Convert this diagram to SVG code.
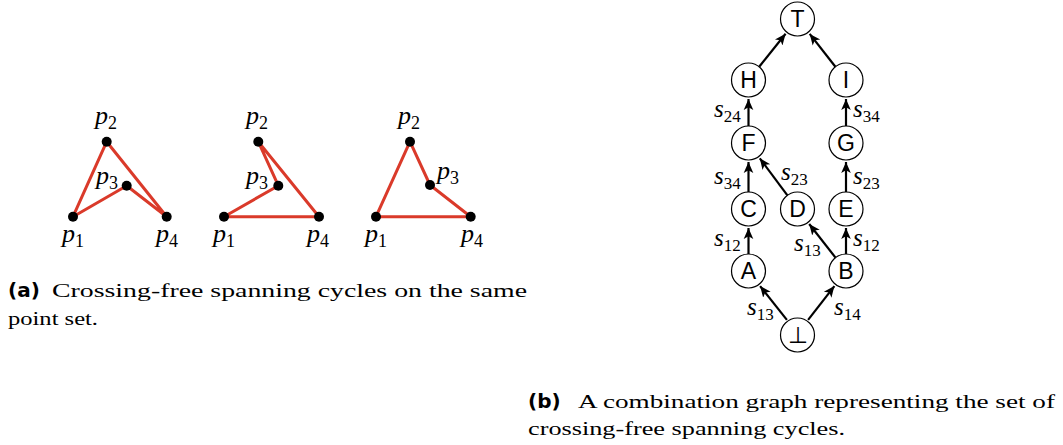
<svg xmlns="http://www.w3.org/2000/svg" width="1063" height="445" viewBox="0 0 1063 445">
<defs>
<marker id="ah" markerUnits="userSpaceOnUse" markerWidth="14" markerHeight="12" refX="11" refY="6" orient="auto">
<path d="M0,1.2 L11,6 L0,10.8 L2.8,6 Z" fill="#000"/>
</marker>
</defs>
<style>
.cyc{fill:none;stroke:#da3a2a;stroke-width:3;stroke-linejoin:round}
.pt{fill:#000}
.pl{font-family:"Liberation Serif","Times New Roman",serif;font-style:italic;font-size:26px;fill:#000}
.sub{font-style:normal;font-size:18px}
.nd circle{fill:#fff;stroke:#000;stroke-width:1.2}
.nd text{font-family:"Liberation Sans",Arial,sans-serif;font-size:23px;text-anchor:middle;fill:#000}
.e{stroke:#000;stroke-width:2.2;fill:none;marker-end:url(#ah)}
.el{font-family:"Liberation Serif","Times New Roman",serif;font-style:italic;font-size:25px;fill:#000}
.es{font-style:normal;font-size:17px}
.cap{font-family:"Liberation Serif",serif;font-size:19.5px;fill:#000}
.capb{font-family:"DejaVu Sans",sans-serif;font-weight:700;font-size:20px;fill:#000}
</style>

<g id="cycle1">
<polygon class="cyc" points="73,216.7 106.7,141.7 166.7,216.7 126.7,185.7"/>
<circle class="pt" cx="73" cy="216.7" r="5"/><circle class="pt" cx="106.7" cy="141.7" r="5"/><circle class="pt" cx="126.7" cy="185.7" r="5"/><circle class="pt" cx="166.7" cy="216.7" r="5"/>
<text class="pl" x="95" y="124">p<tspan class="sub" dy="5">2</tspan></text>
<text class="pl" x="96" y="184">p<tspan class="sub" dy="5">3</tspan></text>
<text class="pl" x="62" y="242">p<tspan class="sub" dy="5">1</tspan></text>
<text class="pl" x="156" y="242">p<tspan class="sub" dy="5">4</tspan></text>
</g>

<g id="cycle2">
<polygon class="cyc" points="224,216.7 278.3,185.7 258.3,141.7 319,216.7"/>
<circle class="pt" cx="224" cy="216.7" r="5"/><circle class="pt" cx="258.3" cy="141.7" r="5"/><circle class="pt" cx="278.3" cy="185.7" r="5"/><circle class="pt" cx="319" cy="216.7" r="5"/>
<text class="pl" x="246" y="124">p<tspan class="sub" dy="5">2</tspan></text>
<text class="pl" x="246" y="184">p<tspan class="sub" dy="5">3</tspan></text>
<text class="pl" x="213" y="242">p<tspan class="sub" dy="5">1</tspan></text>
<text class="pl" x="307" y="242">p<tspan class="sub" dy="5">4</tspan></text>
</g>

<g id="cycle3">
<polygon class="cyc" points="376,216.7 410,141.7 430,185 470.7,216.7"/>
<circle class="pt" cx="376" cy="216.7" r="5"/><circle class="pt" cx="410" cy="141.7" r="5"/><circle class="pt" cx="430" cy="185" r="5"/><circle class="pt" cx="470.7" cy="216.7" r="5"/>
<text class="pl" x="398" y="124">p<tspan class="sub" dy="5">2</tspan></text>
<text class="pl" x="437" y="179">p<tspan class="sub" dy="5">3</tspan></text>
<text class="pl" x="365" y="242">p<tspan class="sub" dy="5">1</tspan></text>
<text class="pl" x="461" y="242">p<tspan class="sub" dy="5">4</tspan></text>
</g>

<g id="caption-a">
<text class="capb" x="8" y="296.7">(a)</text>
<text class="cap" x="52" y="296.7" textLength="475" lengthAdjust="spacingAndGlyphs">Crossing-free spanning cycles on the same</text>
<text class="cap" x="8" y="325" textLength="90" lengthAdjust="spacingAndGlyphs">point set.</text>
</g>

<g id="connectors">
<line class="e" x1="759.2" y1="66.7" x2="785.6" y2="33.8"/>
<line class="e" x1="835.4" y1="66.7" x2="809.7" y2="33.9"/>
<line class="e" x1="748.5" y1="126" x2="748.5" y2="99"/>
<line class="e" x1="846" y1="126" x2="846" y2="99"/>
<line class="e" x1="748.5" y1="192" x2="748.5" y2="162"/>
<line class="e" x1="787.4" y1="195.3" x2="759.8" y2="158.3"/>
<line class="e" x1="846" y1="192" x2="846" y2="162"/>
<line class="e" x1="748.5" y1="254" x2="748.5" y2="228"/>
<line class="e" x1="835.5" y1="257.6" x2="809.2" y2="224"/>
<line class="e" x1="846" y1="254" x2="846" y2="228"/>
<line class="e" x1="786.9" y1="319.9" x2="760.1" y2="286.1"/>
<line class="e" x1="808.1" y1="319.9" x2="834.4" y2="286.1"/>
<text class="el" x="714" y="117">s<tspan class="es" dy="5">24</tspan></text>
<text class="el" x="853" y="117">s<tspan class="es" dy="5">34</tspan></text>
<text class="el" x="714" y="184">s<tspan class="es" dy="5">34</tspan></text>
<text class="el" x="781" y="180">s<tspan class="es" dy="5">23</tspan></text>
<text class="el" x="853" y="184">s<tspan class="es" dy="5">23</tspan></text>
<text class="el" x="714" y="246">s<tspan class="es" dy="5">12</tspan></text>
<text class="el" x="794" y="251">s<tspan class="es" dy="5">13</tspan></text>
<text class="el" x="853" y="246">s<tspan class="es" dy="5">12</tspan></text>
<text class="el" x="747" y="315">s<tspan class="es" dy="5">13</tspan></text>
<text class="el" x="834" y="315">s<tspan class="es" dy="5">14</tspan></text>
</g>

<g id="node-T" class="nd"><circle cx="797.5" cy="19" r="17"/><text x="797.5" y="27">T</text></g>
<g id="node-H" class="nd"><circle cx="748.5" cy="80" r="17"/><text x="748.5" y="88">H</text></g>
<g id="node-I" class="nd"><circle cx="846" cy="80" r="17"/><text x="846" y="88">I</text></g>
<g id="node-F" class="nd"><circle cx="748.5" cy="143" r="17"/><text x="748.5" y="151">F</text></g>
<g id="node-G" class="nd"><circle cx="846" cy="143" r="17"/><text x="846" y="151">G</text></g>
<g id="node-C" class="nd"><circle cx="748.5" cy="209" r="17"/><text x="748.5" y="217">C</text></g>
<g id="node-D" class="nd"><circle cx="797.5" cy="209" r="17"/><text x="797.5" y="217">D</text></g>
<g id="node-E" class="nd"><circle cx="846" cy="209" r="17"/><text x="846" y="217">E</text></g>
<g id="node-A" class="nd"><circle cx="748.5" cy="271" r="17"/><text x="748.5" y="279">A</text></g>
<g id="node-B" class="nd"><circle cx="846" cy="271" r="17"/><text x="846" y="279">B</text></g>
<g id="node-bot" class="nd"><circle cx="797.5" cy="335" r="17"/><text x="797.5" y="343">⊥</text></g>

<g id="caption-b">
<text class="capb" x="528" y="408.3">(b)</text>
<text class="cap" x="578" y="408.3" textLength="477" lengthAdjust="spacingAndGlyphs">A combination graph representing the set of</text>
<text class="cap" x="528" y="435" textLength="317" lengthAdjust="spacingAndGlyphs">crossing-free spanning cycles.</text>
</g>
</svg>
